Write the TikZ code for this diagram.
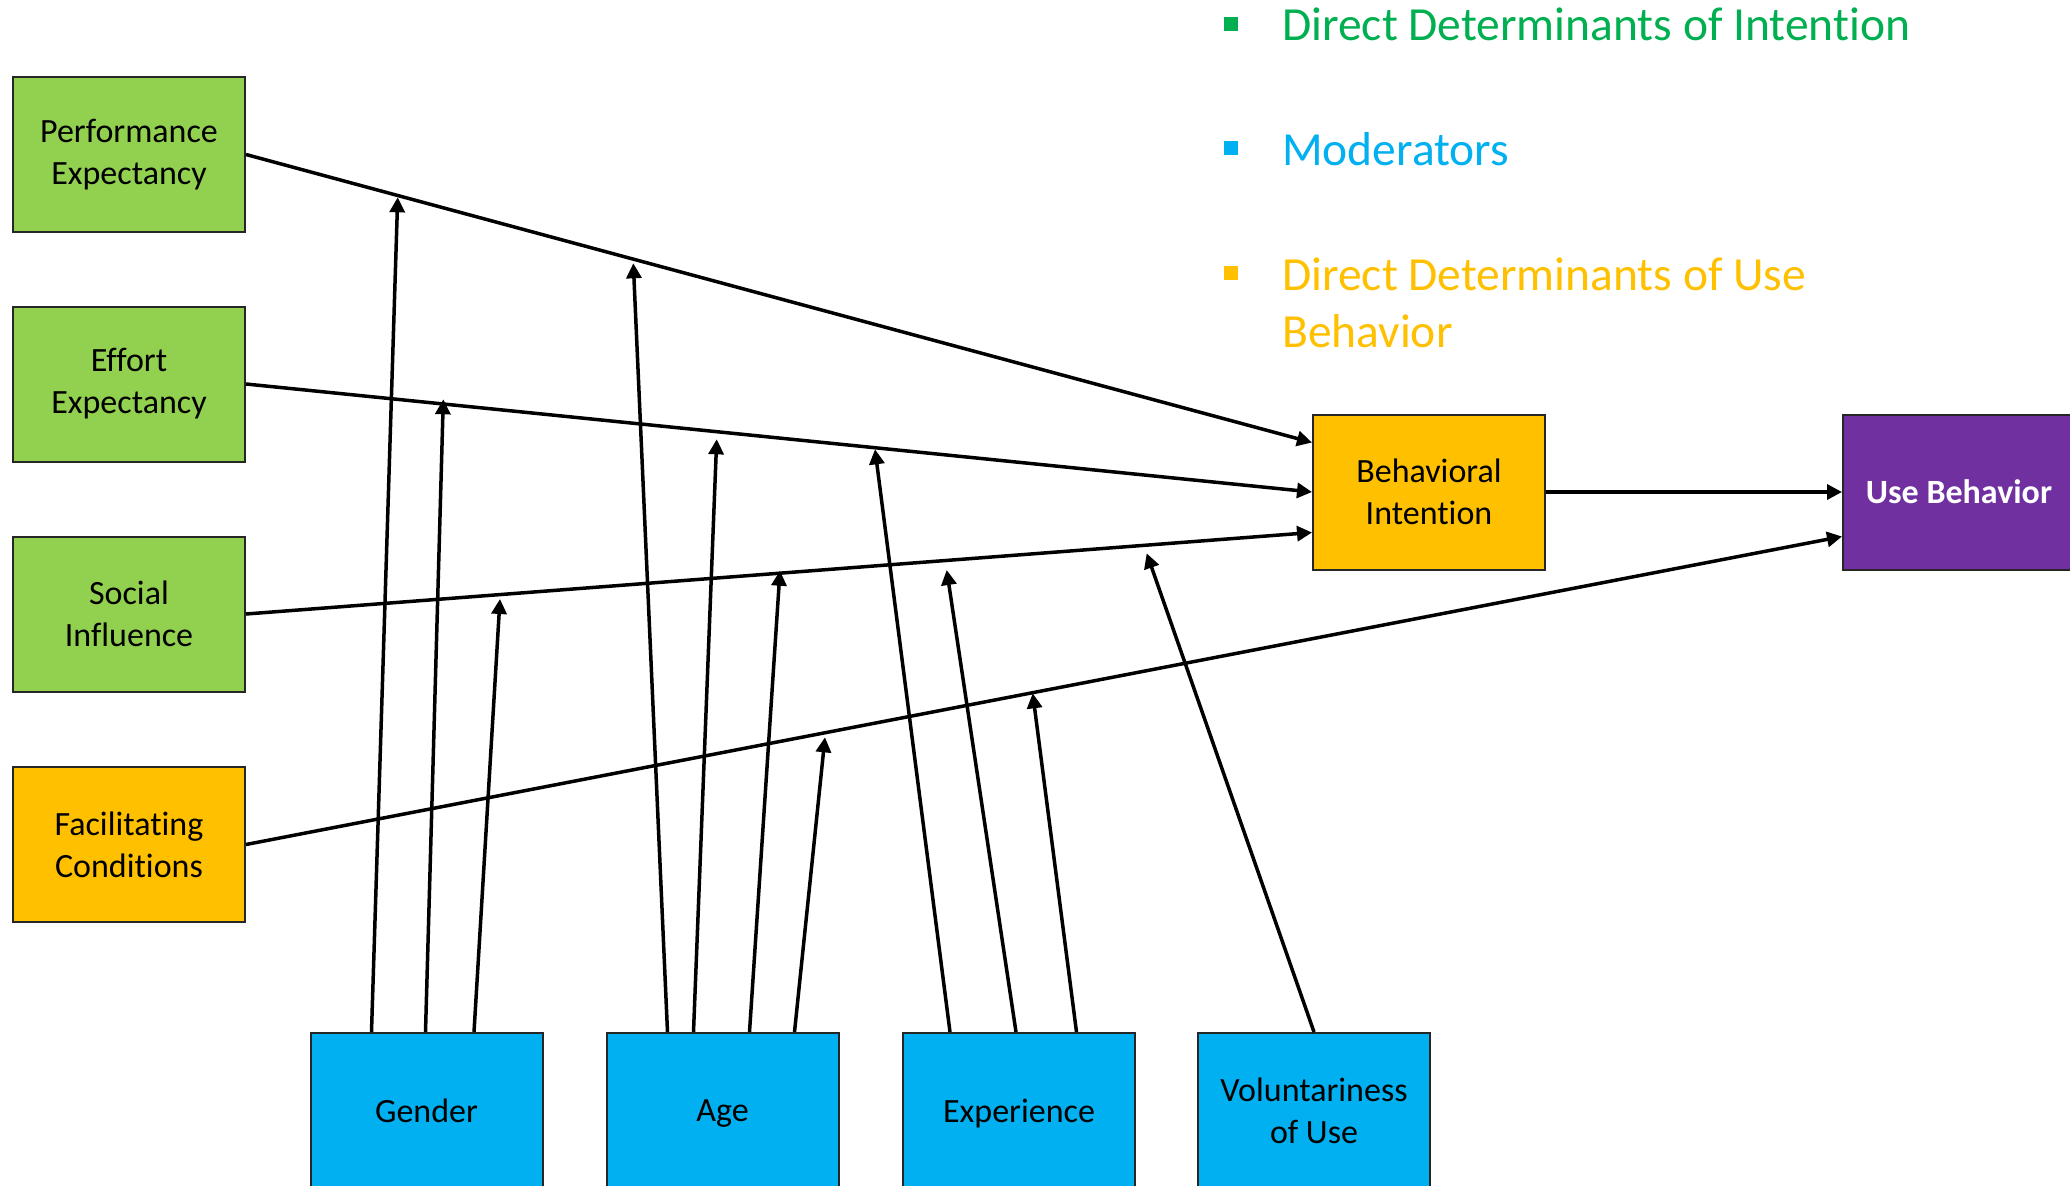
\documentclass[tikz,border=0pt]{standalone}
\usepackage{fontspec}
\setmainfont{Carlito}[Ligatures=NoCommon]
\usetikzlibrary{arrows.meta,calc}
\definecolor{boxgreen}{HTML}{92D050}
\definecolor{boxgold}{HTML}{FFC000}
\definecolor{boxblue}{HTML}{00B0F0}
\definecolor{boxpurple}{HTML}{7030A0}
\definecolor{txtgreen}{HTML}{00B050}
\definecolor{txtblue}{HTML}{00B0F0}
\definecolor{txtgold}{HTML}{FFC000}
\newcommand{\nodepth}[1]{\raisebox{0pt}[\height][0pt]{#1}}
\begin{document}
\begin{tikzpicture}[x=1pt,y=-1pt,
  box/.style={draw=black!85, line width=2pt, minimum width=232pt, minimum height=155pt,
    inner sep=0pt, align=center, font=\fontsize{34}{42}\selectfont},
  conn/.style={line width=3.5pt, -{Triangle[length=15pt,width=15pt]}},
  legtext/.style={anchor=base west, inner sep=0pt, align=left, font=\fontsize{47.5}{57}\selectfont},
  bulletbox/.style={minimum size=14pt, inner sep=0pt}]
\clip (0,0) rectangle (2070,1186);
\fill[white] (0,0) rectangle (2070,1186);

% determinants
\node[box, fill=boxgreen] (pe) at (129,154.5) {Performance\\Expectancy};
\node[box, fill=boxgreen] (ee) at (129,384) {Effort\\Expectancy};
\node[box, fill=boxgreen] (si) at (129,614) {Social\\Influence};
\node[box, fill=boxgold] (fc) at (129,844.5) {Facilitating\\Conditions};
\node[box, fill=boxgold] (bi) at (1429,492) {Behavioral\\Intention};
\node[box, fill=boxpurple, text=white, font=\fontsize{34}{42}\selectfont\bfseries] (ub) at (1959,492) {Use Behavior};

% moderators
\node[box, fill=boxblue] (gen) at (426.5,1110.5) {Gender};
\node[box, fill=boxblue] (age) at (722.5,1110.5) {\nodepth{Age}};
\node[box, fill=boxblue] (exp) at (1019,1110.5) {\nodepth{Experience}};
\node[box, fill=boxblue] (vol) at (1314,1110.5) {Voluntariness\\of Use};

% legend
\node[bulletbox, fill=txtgreen] (b1) at (1230.5,23.5) {};
\node[legtext, text=txtgreen] (l1) at (1282,40) {Direct Determinants of Intention};
\node[bulletbox, fill=txtblue] (b2) at (1230.5,147.5) {};
\node[legtext, text=txtblue] (l2) at (1282,165) {Moderators};
\node[bulletbox, fill=txtgold] (b3) at (1230.5,272.5) {};
\node[legtext, text=txtgold] (l3) at (1282,347) {Direct Determinants of Use\\Behavior};

% main paths
\draw[conn] (pe.east) -- ($(bi.north west)+(0,29)$);
\draw[conn] (ee.east) -- (bi.west);
\draw[conn] (si.east) -- ($(bi.north west)+(0,119)$);
\draw[conn] (bi.east) -- (ub.west);
\draw[conn] (fc.east) -- ($(ub.north west)+(0,123)$);

% moderator tips
\coordinate (g1) at (397.7,197.3);
\coordinate (g2) at (443.3,399.3);
\coordinate (g3) at (500,599);
\coordinate (a1) at (633.3,263.3);
\coordinate (a2) at (716.7,439.3);
\coordinate (a3) at (780,570.7);
\coordinate (a4) at (825,737.3);
\coordinate (e1) at (875,449.3);
\coordinate (e2) at (946.7,570);
\coordinate (e3) at (1032.7,693.3);
\coordinate (v1) at (1146.7,553.3);

\draw[conn] ($(gen.north west)+(62,0)$) -- (g1);
\draw[conn] ($(gen.north west)+(116,0)$) -- (g2);
\draw[conn] ($(gen.north west)+(164.5,0)$) -- (g3);
\draw[conn] ($(age.north west)+(62,0)$) -- (a1);
\draw[conn] ($(age.north west)+(88,0)$) -- (a2);
\draw[conn] ($(age.north west)+(144,0)$) -- (a3);
\draw[conn] ($(age.north west)+(189,0)$) -- (a4);
\draw[conn] ($(exp.north west)+(48,0)$) -- (e1);
\draw[conn] ($(exp.north west)+(114,0)$) -- (e2);
\draw[conn] ($(exp.north west)+(174.5,0)$) -- (e3);
\draw[conn] (vol.north) -- (v1);
\end{tikzpicture}
\end{document}
